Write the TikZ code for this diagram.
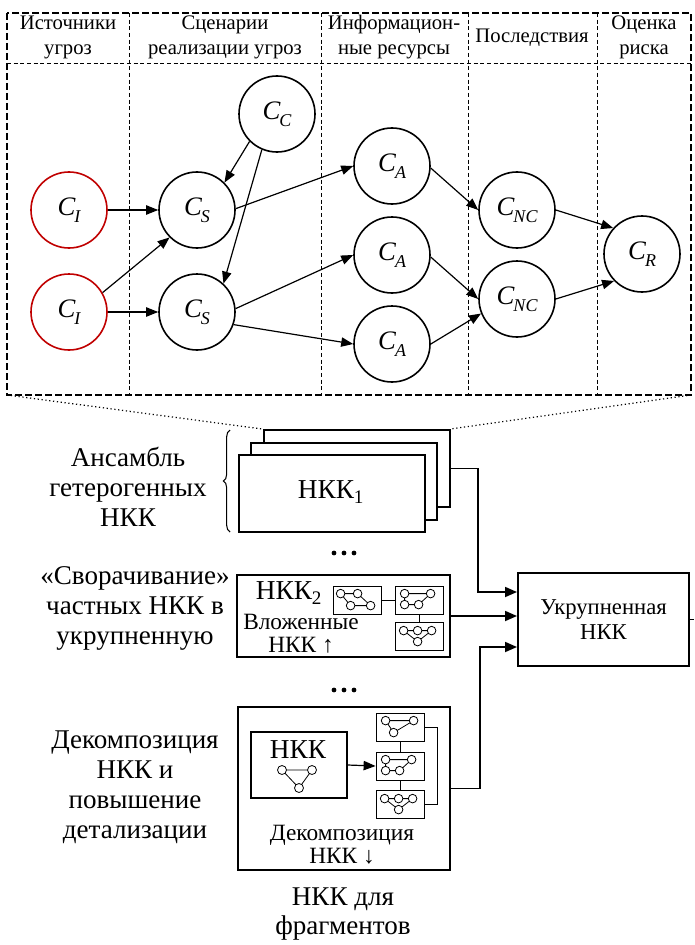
\documentclass[tikz,border=0pt]{standalone}
\usepackage{fontspec}
\setmainfont{Liberation Serif}
\usetikzlibrary{arrows.meta,decorations.pathreplacing,calc}
\definecolor{dred}{RGB}{192,0,0}
\newcommand\cv[1]{{\itshape C}\kern-0.6pt\raisebox{-0.55ex}{\fontsize{13.5}{14}\selectfont\itshape #1}}
\newcommand\icQ{%
  \draw[ithin] (8,8)--(25,8) (8,8)--(18,20) (25,8)--(38,20) (18,20)--(38,20);
  \foreach \p in {(8,8),(25,8),(18,20),(38,20)} \filldraw[ithin,fill=white] \p circle[radius=4.3];}
\newcommand\icT{%
  \draw[ithin] (10,8)--(38,8) (10,8)--(18,20) (38,8)--(18,20);
  \foreach \p in {(10,8),(38,8),(18,20)} \filldraw[ithin,fill=white] \p circle[radius=4.3];}
\newcommand\icB{%
  \draw[ithin] (10,8)--(36,8) (10,8)--(10,19) (10,19)--(24,19) (24,19)--(36,8);
  \foreach \p in {(10,8),(36,8),(10,19),(24,19)} \filldraw[ithin,fill=white] \p circle[radius=4.3];}
\newcommand\icC{%
  \draw[ithin] (9,9)--(37,9) (9,9)--(23,20) (37,9)--(23,20);
  \foreach \p in {(9,9),(23,9),(37,9),(23,20)} \filldraw[ithin,fill=white] \p circle[radius=4.3];}
\begin{document}
\begin{tikzpicture}[x=0.75pt,y=-0.75pt,
  circ/.style={circle,draw,line width=1.2pt,minimum size=57pt,inner sep=0pt,font=\fontsize{20}{22}\selectfont},
  redc/.style={circ,draw=dred},
  arr/.style={line width=0.9pt,-{Triangle[length=9pt,width=7pt]}},
  conn/.style={line width=1.3pt,-{Triangle[length=9pt,width=7.5pt]}},
  hdr/.style={align=center,font=\fontsize{15.5}{18.75}\selectfont,inner sep=0pt},
  lbl/.style={align=center,font=\fontsize{20.3}{22.5}\selectfont,inner sep=0pt},
  mid/.style={align=center,font=\fontsize{17.5}{17.5}\selectfont,inner sep=0pt},
  nk/.style={font=\fontsize{20.5}{22}\selectfont,inner sep=0pt},
  big/.style={draw,line width=1.5pt,fill=white,inner sep=0pt},
  ibox/.style={draw,line width=0.6pt,minimum width=36pt,minimum height=21pt,inner sep=0pt},
  ithin/.style={line width=0.6pt},
  odash/.style={line width=0.8pt,dash pattern=on 5pt off 2.5pt},
  idash/.style={line width=0.6pt,dash pattern=on 3pt off 2pt},
]
\useasboundingbox (0,0) rectangle (694,945);
% ---- upper frame ----
\draw[odash] (7,13) rectangle (691,395);
\draw[idash] (7,63) -- (691,63);
\foreach \x in {129,321,468,597} \draw[idash] (\x,13) -- (\x,395);
\node[hdr] (h1) at (68,37) {Источники\\угроз};
\node[hdr] (h2) at (225,37) {Сценарии\\реализации угроз};
\node[hdr] (h3) at (394,37) {Информацион-\\ные ресурсы};
\node[hdr] (h4) at (532,38) {Последствия};
\node[hdr] (h5) at (644,37) {Оценка\\риска};
% ---- graph ----
\node[redc] (ci1) at (69,210) {\cv{I}};
\node[redc] (ci2) at (69,312) {\cv{I}};
\node[circ] (cs1) at (197,210) {\cv{S}};
\node[circ] (cs2) at (197,312) {\cv{S}};
\node[circ] (cc) at (277,114) {\cv{C}};
\node[circ] (ca1) at (392,166) {\cv{A}};
\node[circ] (ca2) at (392,255) {\cv{A}};
\node[circ] (ca3) at (392,344) {\cv{A}};
\node[circ] (cn1) at (517,210) {\cv{NC}};
\node[circ] (cn2) at (517,299) {\cv{NC}};
\node[circ] (cr) at (642,254) {\cv{R}};
\draw[arr] (ci1) -- (cs1);
\draw[arr] (ci2.30) -- (cs1.-135);
\draw[arr] (ci2) -- (cs2);
\draw[arr] (cc.-135) -- (cs1.45);
\draw[arr] (cc.-113) -- (cs2.47);
\draw[arr] (cs1.2) -- (ca1.west);
\draw[arr] (cs2.5) -- (ca2.west);
\draw[arr] (cs2.-19) -- (ca3.west);
\draw[arr] (ca1.-3) -- (cn1.west);
\draw[arr] (ca2.-3) -- (cn2.west);
\draw[arr] (ca3.east) -- (cn2.-158);
\draw[arr] (cn1.east) -- (cr.138);
\draw[arr] (cn2.east) -- (cr.-136);
% ---- stack ----
\node[big,minimum width=139.5pt,minimum height=57.75pt] (b3) at (356.5,468.5) {};
\node[big,minimum width=139.5pt,minimum height=57.75pt] (b2) at (344,481) {};
\node[big,minimum width=139.5pt,minimum height=57.75pt] (b1) at (331.5,493.5) {};
\node[nk] (t1) at (331,492) {НКК\textsubscript{1}};
\draw[dotted,line width=0.9pt] (7,395) -- (b3.north west);
\draw[dotted,line width=0.9pt] (691,395) -- (b3.north east);
\draw[decorate,decoration={brace,amplitude=5pt},line width=0.8pt] (230,532) -- (230,430);
\node[lbl] (l1) at (128,487) {Ансамбль\\гетерогенных\\НКК};
% ---- dots ----
\foreach \x in {334,344,354} {\fill (\x,553) circle[radius=2.4]; \fill (\x,690) circle[radius=2.4];}
% ---- NKK2 ----
\node[big,minimum width=159.75pt,minimum height=61.5pt] (n2) at (343.5,616) {};
\node[nk] (t2) at (289,593) {НКК\textsubscript{2}};
\node[mid] (t2b) at (301,634) {Вложенные\\НКК ↑};
\node[ibox] (p1) at (357,600) {};
\node[ibox] (p2) at (419,600) {};
\node[ibox] (p3) at (419,636) {};
\begin{scope}[shift={(p1.north west)}]\icQ\end{scope}
\begin{scope}[shift={(p2.north west)}]\icB\end{scope}
\begin{scope}[shift={(p3.north west)}]\icC\end{scope}
\draw[ithin] (p1.east) -- (p2.west);
\draw[ithin] (p2.south) -- (p3.north);
\node[lbl] (l2) at (135,608) {«Сворачивание»\\частных НКК в\\укрупненную};
% ---- decomposition ----
\node[big,minimum width=159pt,minimum height=122.25pt] (dec) at (344,788.5) {};
\node[draw,line width=0.8pt,minimum width=72pt,minimum height=49.5pt,inner sep=0pt] (inn) at (299,765) {};
\node[nk] (t3) at (298,750) {НКК};
\draw[ithin] (282,770) -- (312,770) -- (299,788) -- cycle;
\foreach \p in {(282,770),(312,770),(299,788)} \filldraw[ithin,fill=white] \p circle[radius=4.5];
\node[ibox] (da) at (400,727) {};
\node[ibox] (db) at (400,766) {};
\node[ibox] (dc) at (400,804) {};
\begin{scope}[shift={(da.north west)}]\icT\end{scope}
\begin{scope}[shift={(db.north west)}]\icB\end{scope}
\begin{scope}[shift={(dc.north west)}]\icC\end{scope}
\draw[ithin] (da.south) -- (db.north);
\draw[ithin] (db.south) -- (dc.north);
\draw[ithin] (da.east) -- ++(13,0) |- (dc.east);
\draw[arr] (inn.east) -- (db.west);
\node[mid] (t3b) at (342,845) {Декомпозиция\\НКК ↓};
\node[lbl] (l3) at (135,787) {Декомпозиция\\НКК и\\повышение\\детализации};
\node[lbl,font=\fontsize{20.3}{21.5}\selectfont] (l4) at (343,914) {НКК для\\фрагментов};
% ---- aggregated ----
\node[big,minimum width=128.25pt,minimum height=69.75pt,align=center,font=\fontsize{17}{19}\selectfont] (uk) at (603.5,619.5) {Укрупненная\\НКК};
\coordinate (k1) at (478,592);
\coordinate (k3) at (480,647);
\coordinate (rim) at (694,619.5);
\draw[conn] (b3.east) -| (k1) -- (k1 -| uk.west);
\draw[conn] (n2.east) -- (n2.east -| uk.west);
\draw[conn] (dec.east) -| (k3) -- (k3 -| uk.west);
\draw[line width=1.2pt] (uk.east) -- (rim);
\end{tikzpicture}
\end{document}
